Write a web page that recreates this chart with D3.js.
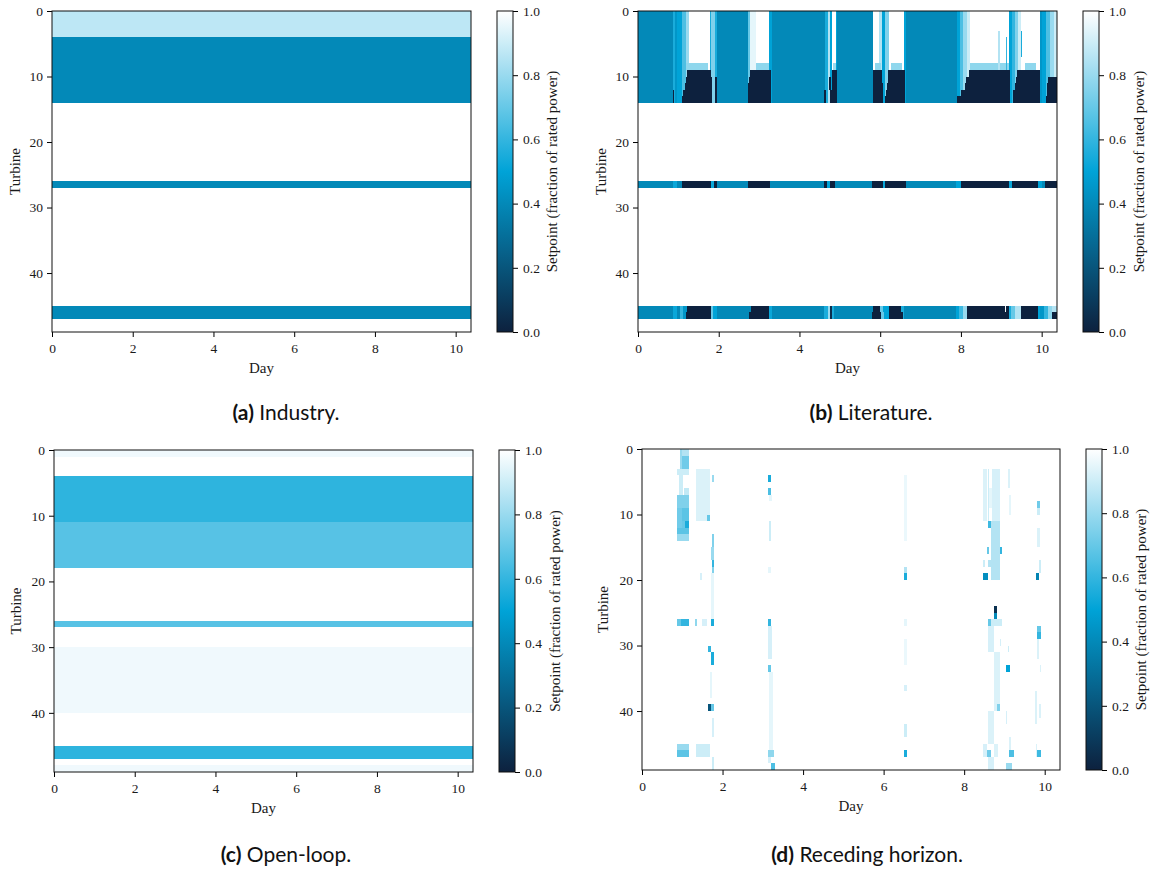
<!DOCTYPE html>
<html>
<head>
<meta charset="utf-8">
<script src="https://cdn.jsdelivr.net/npm/d3@7"></script>
<style>
  body { margin: 0; background: #fff; }
</style>
</head>
<body>
<svg id="fig" width="1154" height="871"></svg>
<script>
// ---- axes / colour settings ----
const dayDomain = [0, 10.38];
const turbineDomain = [0, 49];
const dayTicks = [0, 2, 4, 6, 8, 10];
const turbineTicks = [0, 10, 20, 30, 40];
const setpointTicks = [0, 0.2, 0.4, 0.6, 0.8, 1.0];
const cmapValues = [0, 0.5, 1];
const cmapColors = ["#0d213e", "#00a3d7", "#ffffff"];

const SERIF = '"Liberation Serif", "DejaVu Serif", serif';
const SANS = '"Lato", "Open Sans", sans-serif';

// ---- (a) Industry: constant setpoint per block of turbines [firstRow, endRow, value] ----
const industryBlocks = [[0, 4, 0.87], [4, 14, 0.4], [26, 27, 0.4], [45, 47, 0.4]];

// ---- (c) Open-loop ----
const openLoopBlocks = [[0, 1, 0.97], [4, 11, 0.59], [11, 18, 0.67], [26, 27, 0.67],
                        [30, 40, 0.97], [45, 47, 0.59], [48, 49, 0.97]];

// ---- (b) Literature: time segments [startDay, endDay, value] ----
// turbines 0-13 share this schedule
const literatureUpper = [
  [0, 0.86, 0.4], [0.86, 0.92, 0.55], [0.92, 0.96, 0.45], [0.96, 1.08, 0.5], [1.08, 1.2, 0.65],
  [1.2, 1.27, 0.8], [1.27, 1.78, 1.0], [1.78, 1.82, 0.55], [1.82, 1.9, 0.75], [1.9, 1.96, 0.55],
  [1.96, 2.73, 0.4], [2.73, 2.78, 0.7], [2.78, 2.93, 0.95], [2.93, 3.25, 1.0], [3.25, 3.31, 0.5],
  [3.31, 4.63, 0.4], [4.63, 4.7, 0.55], [4.7, 4.76, 0.85], [4.76, 4.8, 0.5], [4.8, 4.9, 1.0],
  [4.9, 4.93, 0.5], [4.93, 5.81, 0.4], [5.81, 5.97, 1.0], [5.97, 6.04, 0.85], [6.04, 6.12, 0.5],
  [6.12, 6.22, 0.75], [6.22, 6.58, 1.0], [6.58, 6.65, 0.5], [6.65, 7.9, 0.4], [7.9, 7.97, 0.5],
  [7.97, 8.05, 0.65], [8.05, 8.15, 0.8], [8.15, 8.23, 0.9], [8.23, 9.2, 1.0], [9.2, 9.26, 0.5],
  [9.26, 9.33, 0.6], [9.33, 9.42, 0.75], [9.42, 9.5, 0.9], [9.5, 9.95, 1.0], [9.95, 10.0, 0.45],
  [10.0, 10.1, 0.5], [10.1, 10.2, 0.65], [10.2, 10.3, 0.8], [10.3, 10.38, 0.9]
];
// turbine 8 during curtailment
const literatureRow8 = [[1.2, 1.74, 0.78], [2.93, 3.25, 0.78], [4.84, 4.9, 0.8], [5.87, 6.03, 0.78],
                        [6.28, 6.53, 0.78], [8.23, 9.2, 0.78], [9.58, 9.87, 0.78]];
// turbines 9-13 shut down (per turbine)
const literatureRow9 = [[1.22, 1.82, 0], [2.77, 3.3, 0], [4.8, 4.92, 0], [5.81, 6.04, 0], [6.2, 6.62, 0],
                        [8.2, 9.22, 0], [9.4, 9.95, 0]];
const literatureRow10 = [[1.2, 1.83, 0], [1.9, 1.96, 0], [2.75, 3.3, 0], [4.74, 4.78, 0], [4.8, 4.92, 0],
                         [5.81, 6.04, 0], [6.2, 6.62, 0], [8.13, 9.22, 0], [9.37, 9.95, 0], [10.16, 10.38, 0]];
const literatureRow11 = [[1.16, 1.83, 0], [1.9, 1.96, 0], [2.73, 3.3, 0], [4.74, 4.78, 0], [4.8, 4.92, 0],
                         [5.81, 6.08, 0], [6.18, 6.62, 0], [8.09, 9.22, 0], [9.35, 9.95, 0], [10.14, 10.38, 0]];
const literatureRow12 = [[0.86, 0.9, 0], [1.12, 1.83, 0], [1.9, 1.96, 0], [2.72, 3.3, 0], [4.6, 4.65, 0],
                         [4.76, 4.92, 0], [5.81, 6.08, 0], [6.15, 6.62, 0], [8.0, 9.22, 0], [9.3, 9.95, 0],
                         [10.12, 10.38, 0]];
const literatureRow13 = [[0.86, 0.9, 0], [1.1, 1.83, 0], [1.9, 1.96, 0], [2.72, 3.3, 0], [4.6, 4.65, 0],
                         [4.76, 4.92, 0], [5.81, 6.08, 0], [6.13, 6.62, 0], [7.9, 9.22, 0], [9.28, 9.95, 0],
                         [10.1, 10.38, 0]];
// short setpoint changes inside curtailment [startDay, endDay, firstRow, endRow, value]
const literatureSpikes = [[8.93, 8.96, 3, 9, 0.85], [9.12, 9.15, 4, 9, 0.6], [9.49, 9.52, 3, 7, 0.55]];
const literatureRow26 = [
  [0, 0.87, 0.4], [0.87, 0.96, 0.52], [0.96, 1.09, 0.4], [1.09, 1.82, 0], [1.82, 1.88, 0.52],
  [1.88, 1.95, 0], [1.95, 2.72, 0.4], [2.72, 3.28, 0], [3.28, 4.6, 0.4], [4.6, 4.67, 0],
  [4.67, 4.76, 0.5], [4.76, 4.89, 0], [4.89, 5.79, 0.4], [5.79, 6.08, 0], [6.08, 6.13, 0.52],
  [6.13, 6.63, 0], [6.63, 7.89, 0.4], [7.89, 8.0, 0.5], [8.0, 9.2, 0], [9.2, 9.27, 0.52],
  [9.27, 9.9, 0], [9.9, 10.0, 0.5], [10.0, 10.08, 0.4], [10.08, 10.38, 0]
];
const literatureRow45 = [
  [0, 0.87, 0.4], [0.87, 0.96, 0.52], [0.96, 1.05, 0.4], [1.05, 1.12, 0.6], [1.12, 1.22, 0.45],
  [1.22, 1.8, 0], [1.8, 1.87, 0.7], [1.87, 1.95, 0.5], [1.95, 2.8, 0.4], [2.8, 3.25, 0],
  [3.25, 3.31, 0.52], [3.31, 4.62, 0.4], [4.62, 4.7, 0.55], [4.7, 4.75, 0.8], [4.75, 4.8, 0.05],
  [4.8, 4.86, 0.55], [4.86, 5.81, 0.4], [5.81, 6.0, 0], [6.0, 6.07, 0.7], [6.07, 6.22, 0.5],
  [6.22, 6.52, 0], [6.52, 6.6, 0.55], [6.6, 7.87, 0.4], [7.87, 7.95, 0.5], [7.95, 8.05, 0.62],
  [8.05, 8.15, 0.8], [8.15, 9.08, 0], [9.08, 9.12, 0.98], [9.12, 9.18, 0], [9.18, 9.25, 0.55],
  [9.25, 9.35, 0.7], [9.35, 9.5, 0.85], [9.5, 9.9, 0], [9.9, 9.96, 0.5], [9.96, 10.05, 0.45],
  [10.05, 10.15, 0.6], [10.15, 10.26, 0.78], [10.26, 10.38, 0.85]
];
const literatureRow46 = [
  [0, 0.87, 0.4], [0.87, 0.96, 0.52], [0.96, 1.05, 0.4], [1.05, 1.12, 0.6], [1.12, 1.2, 0.45],
  [1.2, 1.8, 0], [1.8, 1.87, 0.7], [1.87, 1.95, 0.5], [1.95, 2.76, 0.4], [2.76, 3.25, 0],
  [3.25, 3.31, 0.52], [3.31, 4.62, 0.4], [4.62, 4.7, 0.55], [4.7, 4.75, 0.8], [4.75, 4.8, 0.05],
  [4.8, 4.86, 0.55], [4.86, 5.79, 0.4], [5.79, 6.03, 0], [6.03, 6.1, 0.7], [6.1, 6.22, 0.5],
  [6.22, 6.56, 0], [6.56, 6.6, 0.55], [6.6, 7.87, 0.4], [7.87, 7.95, 0.5], [7.95, 8.05, 0.62],
  [8.05, 8.14, 0.8], [8.14, 9.18, 0], [9.18, 9.25, 0.55], [9.25, 9.35, 0.7], [9.35, 9.5, 0.85],
  [9.5, 9.9, 0], [9.9, 9.96, 0.5], [9.96, 10.05, 0.45], [10.05, 10.15, 0.6], [10.15, 10.26, 0.78],
  [10.26, 10.38, 0]
];

// ---- (d) Receding horizon: deviations from full power [startDay, endDay, firstRow, endRow, value] ----
const recedingCells = [
  [0.94, 1.0, 0, 3, 0.8], [1.0, 1.17, 0, 1, 0.85], [1.0, 1.17, 1, 3, 0.72], [0.88, 1.17, 3, 4, 0.9],
  [0.92, 1.03, 4, 7, 0.9], [1.05, 1.17, 6, 7, 0.88], [0.88, 1.17, 7, 9, 0.75], [0.88, 1.0, 9, 12, 0.72],
  [1.0, 1.17, 9, 11, 0.68], [1.08, 1.17, 11, 12, 0.55], [1.0, 1.08, 11, 12, 0.7], [0.88, 1.17, 12, 13, 0.68],
  [0.88, 1.17, 13, 14, 0.8],
  [0.88, 0.98, 26, 27, 0.7], [0.98, 1.17, 26, 27, 0.6], [1.32, 1.36, 26, 27, 0.78], [1.5, 1.62, 26, 27, 0.92],
  [1.72, 1.8, 26, 27, 0.55],
  [0.88, 1.17, 45, 46, 0.8], [0.88, 1.17, 46, 47, 0.68], [1.35, 1.68, 45, 47, 0.9],
  [1.35, 1.68, 3, 11, 0.93], [1.62, 1.7, 10, 11, 0.7],
  [1.74, 1.8, 4, 5, 0.8], [1.74, 1.8, 13, 15, 0.75], [1.72, 1.8, 15, 17, 0.8], [1.74, 1.8, 17, 18, 0.6],
  [1.74, 1.8, 18, 19, 0.75], [1.45, 1.5, 19, 20, 0.92], [1.72, 1.8, 19, 26, 0.95],
  [1.63, 1.72, 30, 31, 0.6], [1.72, 1.8, 31, 33, 0.55], [1.68, 1.74, 34, 38, 0.95],
  [1.65, 1.72, 39, 40, 0.2], [1.72, 1.8, 39, 40, 0.7], [1.74, 1.8, 41, 44, 0.92], [1.74, 1.8, 47, 49, 0.9],
  [3.12, 3.2, 4, 5, 0.55], [3.12, 3.2, 6, 7, 0.65], [3.15, 3.22, 7, 8, 0.95], [3.15, 3.2, 11, 14, 0.9],
  [3.14, 3.2, 18, 19, 0.95], [3.14, 3.2, 26, 27, 0.6], [3.14, 3.22, 27, 32, 0.92], [3.12, 3.2, 33, 34, 0.7],
  [3.15, 3.25, 34, 46, 0.95], [3.12, 3.2, 47, 48, 0.92], [3.12, 3.28, 46, 47, 0.78], [3.2, 3.3, 48, 49, 0.65],
  [6.5, 6.57, 4, 14, 0.96], [6.5, 6.57, 18, 19, 0.85], [6.5, 6.57, 19, 20, 0.55], [6.5, 6.57, 26, 27, 0.95],
  [6.5, 6.57, 29, 33, 0.96], [6.5, 6.57, 36, 37, 0.92], [6.5, 6.57, 42, 44, 0.9], [6.5, 6.57, 46, 47, 0.55],
  [8.46, 8.56, 3, 11, 0.93], [8.58, 8.62, 3, 11, 0.9], [8.7, 8.88, 3, 11, 0.92], [8.62, 8.7, 6, 9, 0.95],
  [9.1, 9.14, 3, 6, 0.93], [9.12, 9.16, 7, 10, 0.95], [8.6, 8.66, 11, 12, 0.62], [8.66, 8.88, 11, 20, 0.85],
  [8.56, 8.62, 15, 16, 0.7], [8.88, 8.95, 15, 16, 0.6], [8.46, 8.52, 17, 18, 0.9], [8.6, 8.66, 17, 18, 0.85],
  [8.46, 8.58, 19, 20, 0.42], [8.73, 8.81, 24, 25, 0.06], [8.73, 8.81, 25, 26, 0.4], [8.58, 8.66, 26, 27, 0.7],
  [8.66, 8.95, 26, 27, 0.9], [8.6, 8.75, 27, 31, 0.92], [8.88, 8.92, 29, 30, 0.92], [9.08, 9.12, 30, 31, 0.9],
  [8.75, 8.88, 31, 40, 0.93], [9.03, 9.14, 33, 34, 0.5], [8.81, 8.88, 39, 40, 0.75], [8.6, 8.75, 40, 45, 0.93],
  [9.03, 9.06, 40, 42, 0.92], [8.46, 8.56, 45, 47, 0.92], [8.56, 8.66, 46, 47, 0.72], [8.75, 8.83, 45, 47, 0.93],
  [9.12, 9.24, 46, 47, 0.65], [8.6, 8.75, 47, 49, 0.92], [9.03, 9.18, 48, 49, 0.8], [9.12, 9.16, 44, 46, 0.93],
  [9.82, 9.88, 8, 9, 0.72], [9.82, 9.88, 9, 10, 0.9], [9.82, 9.88, 12, 15, 0.93], [9.86, 9.92, 17, 19, 0.9],
  [9.78, 9.85, 19, 20, 0.38], [9.82, 9.92, 27, 28, 0.7], [9.82, 9.92, 28, 29, 0.6], [9.8, 9.86, 29, 32, 0.93],
  [9.88, 9.92, 33, 34, 0.93], [9.76, 9.82, 37, 42, 0.93], [9.86, 9.9, 39, 41, 0.93], [9.82, 9.92, 46, 47, 0.62],
  [9.78, 9.82, 45, 47, 0.93]
];

// ---- captions ----
const captions = [["(a)", "Industry."], ["(b)", "Literature."], ["(c)", "Open-loop."], ["(d)", "Receding horizon."]];

// ---- drawing ----
const svg = d3.select("#fig");
const color = d3.scaleLinear().domain(cmapValues).range(cmapColors).clamp(true);

// vertical colour gradient for the colour bars
const grad = svg.append("defs").append("linearGradient")
  .attr("id", "cmap").attr("x1", 0).attr("y1", 1).attr("x2", 0).attr("y2", 0);
d3.range(0, 1.0001, 0.05).forEach(t => {
  grad.append("stop").attr("offset", t).attr("stop-color", color(t));
});

const layouts = [
  { left: 52,  top: 11,  w: 419, h: 321, cbX: 497,  labelX: 15,  cbLabelX: 552,  capX: 286, capY: 420 },
  { left: 638, top: 11,  w: 419, h: 321, cbX: 1083, labelX: 601, cbLabelX: 1139, capX: 871, capY: 420 },
  { left: 54,  top: 450, w: 419, h: 322, cbX: 499,  labelX: 16,  cbLabelX: 555,  capX: 286, capY: 862 },
  { left: 642, top: 449, w: 418, h: 321, cbX: 1086, labelX: 603, cbLabelX: 1141, capX: 867, capY: 862 }
];

function styleAxis(a) {
  a.attr("font-family", SERIF).attr("font-size", 13.5);
  a.select(".domain").remove();
  a.selectAll("text").attr("fill", "#1a1a1a").style("font-family", SERIF).style("font-size", "13.5px");
  a.selectAll("line").attr("stroke", "#000");
}

function makePanel(i, drawCells) {
  const L = layouts[i];
  const g = svg.append("g").attr("transform", `translate(${L.left},${L.top})`);
  const x = d3.scaleLinear().domain(dayDomain).range([0, L.w]);
  const y = d3.scaleLinear().domain(turbineDomain).range([0, L.h]);

  const cells = g.append("g").attr("shape-rendering", "crispEdges");
  cells.append("rect").attr("width", L.w).attr("height", L.h).attr("fill", color(1));
  drawCells(cells, x, y);

  // axes
  styleAxis(g.append("g").call(d3.axisLeft(y).tickValues(turbineTicks).tickSize(5).tickPadding(4)));
  styleAxis(g.append("g").attr("transform", `translate(0,${L.h})`)
    .call(d3.axisBottom(x).tickValues(dayTicks).tickSize(5).tickPadding(6)));
  g.append("rect").attr("width", L.w).attr("height", L.h)
    .attr("fill", "none").attr("stroke", "#111").attr("stroke-width", 1);

  g.append("text").attr("x", L.w / 2).attr("y", L.h + 41)
    .attr("text-anchor", "middle").style("font-family", SERIF).style("font-size", "15px")
    .attr("fill", "#1a1a1a").text("Day");
  g.append("text")
    .attr("transform", `translate(${L.labelX - L.left},${L.h / 2}) rotate(-90)`)
    .attr("text-anchor", "middle").attr("dominant-baseline", "central")
    .style("font-family", SERIF).style("font-size", "15px").attr("fill", "#1a1a1a").text("Turbine");

  // colour bar
  const cbW = 16;
  const cb = svg.append("g").attr("transform", `translate(${L.cbX},${L.top})`);
  cb.append("rect").attr("width", cbW).attr("height", L.h).attr("fill", "url(#cmap)");
  const cbScale = d3.scaleLinear().domain([0, 1]).range([L.h, 0]);
  styleAxis(cb.append("g").attr("transform", `translate(${cbW},0)`)
    .call(d3.axisRight(cbScale).tickValues(setpointTicks).tickFormat(d3.format(".1f"))
      .tickSize(5).tickPadding(5)));
  cb.append("rect").attr("width", cbW).attr("height", L.h)
    .attr("fill", "none").attr("stroke", "#111").attr("stroke-width", 1);
  svg.append("text")
    .attr("transform", `translate(${L.cbLabelX},${L.top + L.h / 2}) rotate(-90)`)
    .attr("text-anchor", "middle").attr("dominant-baseline", "central")
    .style("font-family", SERIF).style("font-size", "15px").attr("fill", "#1a1a1a")
    .text("Setpoint (fraction of rated power)");

  // caption
  const cap = svg.append("text")
    .attr("x", L.capX).attr("y", L.capY).attr("text-anchor", "middle")
    .style("font-family", SANS).style("font-size", "21px").attr("fill", "#111");
  cap.append("tspan").attr("font-weight", "bold").text(captions[i][0]);
  cap.append("tspan").text(" " + captions[i][1]);
}

// full-width blocks of constant setpoint
function drawBlocks(blocks) {
  return (g, x, y) => {
    g.selectAll("rect.blk").data(blocks).join("rect").attr("class", "blk")
      .attr("x", x(dayDomain[0])).attr("width", x(dayDomain[1]) - x(dayDomain[0]))
      .attr("y", d => y(d[0])).attr("height", d => y(d[1]) - y(d[0]))
      .attr("fill", d => color(d[2]));
  };
}

// time segments on a range of turbine rows
function drawSegments(g, x, y, segs, r0, r1) {
  g.append("g").selectAll("rect").data(segs).join("rect")
    .attr("x", d => x(d[0])).attr("width", d => x(d[1]) - x(d[0]))
    .attr("y", y(r0)).attr("height", y(r1) - y(r0))
    .attr("fill", d => color(d[2]));
}

function drawCellList(g, x, y, list) {
  g.append("g").selectAll("rect").data(list).join("rect")
    .attr("x", d => x(d[0])).attr("width", d => x(d[1]) - x(d[0]))
    .attr("y", d => y(d[2])).attr("height", d => y(d[3]) - y(d[2]))
    .attr("fill", d => color(d[4]));
}

makePanel(0, drawBlocks(industryBlocks));

makePanel(1, (g, x, y) => {
  drawSegments(g, x, y, literatureUpper, 0, 14);
  drawSegments(g, x, y, literatureRow8, 8, 9);
  [literatureRow9, literatureRow10, literatureRow11, literatureRow12, literatureRow13]
    .forEach((segs, k) => drawSegments(g, x, y, segs, 9 + k, 10 + k));
  drawCellList(g, x, y, literatureSpikes);
  drawSegments(g, x, y, literatureRow26, 26, 27);
  drawSegments(g, x, y, literatureRow45, 45, 46);
  drawSegments(g, x, y, literatureRow46, 46, 47);
});

makePanel(2, drawBlocks(openLoopBlocks));

makePanel(3, (g, x, y) => drawCellList(g, x, y, recedingCells));
</script>
</body>
</html>
